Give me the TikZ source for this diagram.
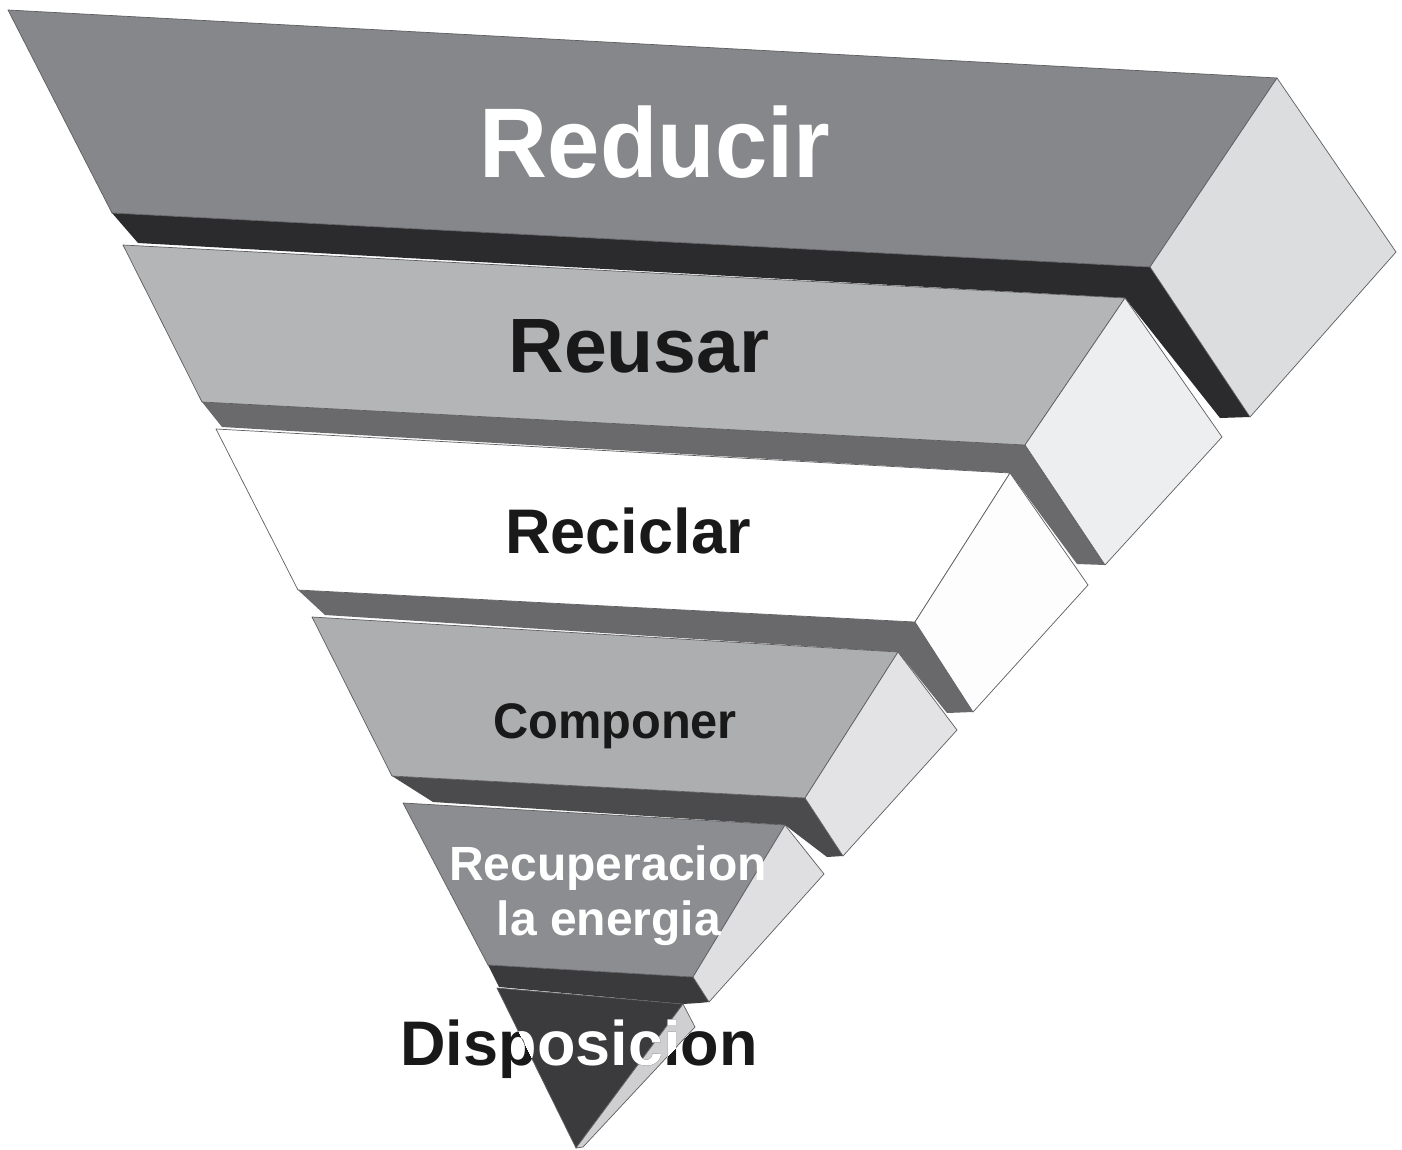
\documentclass[tikz,border=0pt]{standalone}
\usepackage{fontspec}
\setmainfont{Liberation Sans}
\definecolor{fa}{HTML}{86878B}
\definecolor{ea}{HTML}{DCDDDF}
\definecolor{ba}{HTML}{2B2A2C}
\definecolor{fb}{HTML}{B4B5B7}
\definecolor{eb}{HTML}{EDEEEF}
\definecolor{bb}{HTML}{6A6A6C}
\definecolor{fc}{HTML}{FFFFFF}
\definecolor{ec}{HTML}{FDFDFD}
\definecolor{bc}{HTML}{69696B}
\definecolor{fd}{HTML}{ADAEB0}
\definecolor{ed}{HTML}{E3E3E5}
\definecolor{bd}{HTML}{4B4A4C}
\definecolor{fe}{HTML}{8C8D90}
\definecolor{ee}{HTML}{DFDFE1}
\definecolor{be}{HTML}{3A393B}
\definecolor{ff}{HTML}{3B3A3C}
\definecolor{ef}{HTML}{CFCFD1}
\definecolor{edgec}{HTML}{5E5E60}
\begin{document}
\begin{tikzpicture}[x=0.5pt,y=-0.5pt,
  face/.style={draw=edgec, line width=0.35pt, line join=round},
  lbl/.style={anchor=base, inner sep=0pt, outer sep=0pt}]
\useasboundingbox[fill=white] (0,0) rectangle (1402,1150);
% layer 1
\coordinate (A1) at (8,10);    \coordinate (B1) at (1277,78);
\coordinate (C1) at (1150,267); \coordinate (D1) at (112,213);
\coordinate (E1) at (1396,252); \coordinate (F1) at (1250,417);
\coordinate (G1) at (1220,418); \coordinate (Q1) at (138,243);
% layer 2
\coordinate (A2) at (123,245);  \coordinate (B2) at (1125,298);
\coordinate (C2) at (1025,445); \coordinate (D2) at (202,402);
\coordinate (E2) at (1222,437); \coordinate (F2) at (1105,565);
\coordinate (G2) at (1077,564); \coordinate (Q2) at (222,427);
% layer 3
\coordinate (A3) at (216,429);  \coordinate (B3) at (1010,473);
\coordinate (C3) at (915,622);  \coordinate (D3) at (298,590);
\coordinate (E3) at (1088,585); \coordinate (F3) at (973,712);
\coordinate (G3) at (947,713);  \coordinate (Q3) at (325,615);
% layer 4
\coordinate (A4) at (312,617);  \coordinate (B4) at (898,652);
\coordinate (C4) at (805,798);  \coordinate (D4) at (392,776);
\coordinate (E4) at (957,730);  \coordinate (F4) at (843,856);
\coordinate (G4) at (827,857);  \coordinate (Q4) at (433,802);
% layer 5
\coordinate (A5) at (403,803);  \coordinate (B5) at (785,825);
\coordinate (C5) at (693,977);  \coordinate (D5) at (488,965);
\coordinate (E5) at (824,874);  \coordinate (F5) at (709,1002);
\coordinate (G5) at (699,1003); \coordinate (Q5) at (499,987);
% layer 6
\coordinate (T1) at (497,988);  \coordinate (T2) at (683,1004);
\coordinate (T3) at (576,1148); \coordinate (S1) at (695,1027);
\coordinate (S2) at (583,1147);

% layer 1
\fill[ba] (D1) -- (C1) -- (F1) -- (G1) -- (B2) -- (Q1) -- cycle;
\draw[face, fill=fa] (A1) -- (B1) -- (C1) -- (D1) -- cycle;
\draw[face, fill=ea] (B1) -- (E1) -- (F1) -- (C1) -- cycle;
% layer 2
\fill[bb] (D2) -- (C2) -- (F2) -- (G2) -- (B3) -- (Q2) -- cycle;
\draw[face, fill=fb] (A2) -- (B2) -- (C2) -- (D2) -- cycle;
\draw[face, fill=eb] (B2) -- (E2) -- (F2) -- (C2) -- cycle;
% layer 3
\fill[bc] (D3) -- (C3) -- (F3) -- (G3) -- (B4) -- (Q3) -- cycle;
\draw[face, fill=fc] (A3) -- (B3) -- (C3) -- (D3) -- cycle;
\draw[face, fill=ec] (B3) -- (E3) -- (F3) -- (C3) -- cycle;
% layer 4
\fill[bd] (D4) -- (C4) -- (F4) -- (G4) -- (B5) -- (Q4) -- cycle;
\draw[face, fill=fd] (A4) -- (B4) -- (C4) -- (D4) -- cycle;
\draw[face, fill=ed] (B4) -- (E4) -- (F4) -- (C4) -- cycle;
% layer 5
\fill[be] (D5) -- (C5) -- (F5) -- (G5) -- (T2) -- (Q5) -- cycle;
\draw[face, fill=fe] (A5) -- (B5) -- (C5) -- (D5) -- cycle;
\draw[face, fill=ee] (B5) -- (E5) -- (F5) -- (C5) -- cycle;
% layer 6
\draw[face, fill=ff] (T1) -- (T2) -- (T3) -- cycle;
\draw[face, fill=ef] (T2) -- (S1) -- (S2) -- (T3) -- cycle;

% labels
\node[lbl, text=white, xscale=0.95, font=\bfseries\fontsize{49.5}{50}\selectfont] (reducir) at (655,178) {Reducir};
\node[lbl, text=black!90, font=\bfseries\fontsize{38.5}{40}\selectfont] (reusar) at (639,372) {Reusar};
\node[lbl, text=black!90, font=\bfseries\fontsize{31.5}{33}\selectfont] (reciclar) at (628,553) {Reciclar};
\node[lbl, text=black!90, xscale=0.975, font=\bfseries\fontsize{25}{26}\selectfont] (componer) at (615,738) {Componer};
\node[lbl, text=white, font=\bfseries\fontsize{24}{25}\selectfont] (recup) at (608,880) {Recuperacion};
\node[lbl, text=white, font=\bfseries\fontsize{24}{25}\selectfont] (energia) at (609,935) {la energia};
\node[lbl, text=black!90, font=\bfseries\fontsize{31.5}{33}\selectfont] (disp) at (579,1065) {Disposicion};
\begin{scope}
  \clip (T1) -- (T2) -- (S1) -- (S2) -- (T3) -- cycle;
  \node[lbl, text=white, font=\bfseries\fontsize{31.5}{33}\selectfont] (dispw) at (579,1065) {Disposicion};
\end{scope}
\end{tikzpicture}
\end{document}
